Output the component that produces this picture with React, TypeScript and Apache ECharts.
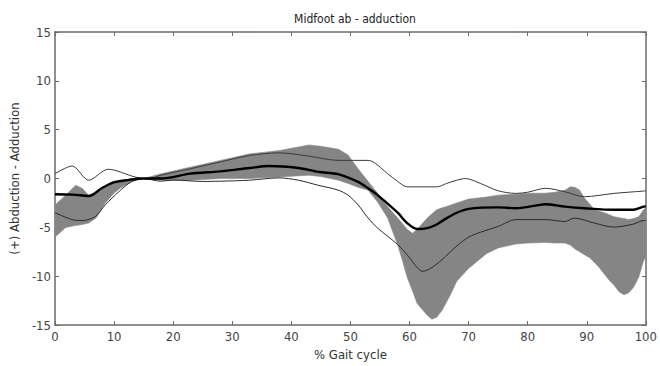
import React, { useEffect, useRef } from "react";
import * as echarts from "echarts";

// % gait cycle sample points for the normative band
const bandX = [0, 1.8, 3.5, 4.6, 5.7, 7, 8.5, 10, 11, 13, 15, 18, 23, 28, 33, 38, 43, 45, 48, 49.6, 51.3, 53, 54.6, 56.3, 58, 58.8, 59.6, 60.5, 61.3, 63, 63.8, 64.6, 65.5, 66.3, 67, 68, 70, 73, 75, 78, 80, 83, 84.6, 86.3, 87.2, 88, 88.8, 89.6, 90.5, 91.3, 92.1, 93, 93.8, 94.6, 95.5, 96.3, 97.1, 97.9, 98.8, 99.6, 100];

// Normative band (grey): upper and lower edges
const bandHigh = [-2.7, -1.7, -0.68, -1.0, -1.7, -1.4, -0.9, -0.35, -0.2, -0.05, 0, 0.5, 1.18, 1.86, 2.53, 2.87, 3.44, 3.3, 3.0, 2.4, 1.0, -0.3, -1.5, -2.85, -4.05, -4.6, -5.2, -5.6, -5.2, -4.05, -3.6, -3.2, -3.0, -2.85, -2.7, -2.5, -2.1, -1.9, -1.7, -1.6, -1.5, -1.5, -1.4, -1.2, -0.85, -0.9, -1.2, -2.0, -2.6, -3.2, -3.35, -3.5, -3.7, -3.9, -4.0, -4.1, -4.2, -4.1, -3.9, -3.2, -3.0];
const bandLow = [-6.0, -5.0, -4.8, -4.7, -4.56, -4.0, -2.5, -1.5, -1.0, -0.3, 0, -0.17, -0.17, 0, 0, 0.17, 0.34, 0.2, -0.17, -0.5, -0.9, -1.2, -2.4, -4.05, -6.8, -8.4, -10.1, -11.5, -12.8, -14.0, -14.4, -14.2, -13.5, -12.6, -11.8, -10.5, -9.2, -7.7, -7.1, -6.7, -6.6, -6.55, -6.6, -6.6, -6.8, -7.2, -7.5, -7.8, -8.1, -8.6, -9.1, -9.8, -10.4, -10.9, -11.6, -11.9, -11.7, -11.15, -10.1, -8.45, -8.0];

// Mean curve (thick)
const meanX = [0, 3, 5.7, 7.9, 9.9, 12.1, 14.9, 17.9, 22.9, 27.9, 32.9, 36.2, 41.2, 44.6, 47.9, 51.3, 53, 54.6, 58, 59.6, 61.3, 63, 64.6, 66.3, 68, 70, 75, 78, 81.3, 83, 86.3, 89.6, 94.6, 97.9, 99.6, 100];
const meanY = [-1.6, -1.65, -1.79, -1.0, -0.4, -0.17, 0, 0, 0.5, 0.74, 1.08, 1.28, 1.08, 0.68, 0.45, -0.34, -1.0, -1.7, -3.5, -4.56, -5.17, -5.07, -4.7, -4.05, -3.5, -3.1, -2.95, -3.04, -2.77, -2.63, -2.87, -3.04, -3.2, -3.2, -2.87, -2.85];

// Upper comparison curve (thin)
const upperX = [0, 2.9, 5.7, 9, 13.5, 15.8, 17.9, 22.9, 27.9, 32.9, 37.9, 42.9, 47.9, 53, 56.3, 58, 59.6, 63, 64.6, 66.3, 68, 69.5, 72, 75, 78, 80, 83, 86.3, 89.6, 94.6, 99.6, 100];
const upperY = [0.5, 1.28, -0.17, 0.95, 0.17, -0.05, 0.34, 1.0, 1.69, 2.36, 2.63, 2.3, 1.86, 1.86, 0.5, -0.3, -0.85, -0.85, -0.85, -0.5, -0.17, 0.0, -0.5, -1.25, -1.52, -1.4, -1.0, -1.35, -1.86, -1.52, -1.28, -1.25];

// Lower comparison curve (thin)
const lowerX = [0, 2.9, 4.6, 6.8, 8.5, 10.8, 12.9, 15, 17.9, 20, 25, 27.9, 32.9, 37.9, 41.2, 44.5, 47.9, 49.6, 51.3, 53, 54.6, 56.3, 58, 59.6, 61.3, 62.2, 63.8, 65.5, 68, 70, 72, 75, 78, 83, 86.3, 87.9, 91.3, 94.6, 97.9, 99.6, 100];
const lowerY = [-3.5, -4.2, -4.3, -3.9, -2.7, -1.35, -0.34, 0, -0.27, -0.15, -0.3, -0.27, -0.17, 0.07, -0.17, -0.68, -1.18, -1.7, -2.7, -4.05, -5.07, -5.9, -6.76, -7.8, -9.1, -9.5, -9.1, -8.3, -6.9, -6.0, -5.5, -4.9, -4.2, -4.2, -4.4, -4.05, -4.56, -4.97, -4.66, -4.3, -4.3];

const xTicks = [0, 10, 20, 30, 40, 50, 60, 70, 80, 90, 100];
const yTicks = [-15, -10, -5, 0, 5, 10, 15];

const pairs = (xs: number[], ys: number[]) => xs.map((x, i) => [x, ys[i]]);

const FONT = "'Liberation Sans Narrow', 'DejaVu Sans Condensed', 'Liberation Sans', sans-serif";
const AXIS = "#6a6a6a";

export default function App() {
  const ref = useRef<HTMLDivElement>(null);

  useEffect(() => {
    if (!ref.current) return;
    const chart = echarts.init(ref.current, undefined, { renderer: "svg" });

    const bandData = bandX.map((x, i) => [x, bandLow[i], bandHigh[i]]);

    const baseX = {
      type: "value" as const,
      min: 0,
      max: 100,
      interval: 10,
      splitLine: { show: false },
      axisLine: { onZero: false, lineStyle: { color: AXIS, width: 1.5 } },
      axisTick: { inside: true, length: 4, lineStyle: { color: AXIS, width: 1 } },
    };
    const baseY = {
      type: "value" as const,
      min: -15,
      max: 15,
      interval: 5,
      splitLine: { show: false },
      axisLine: { onZero: false, lineStyle: { color: AXIS, width: 1.5 } },
      axisTick: { inside: true, length: 4, lineStyle: { color: AXIS, width: 1 } },
    };

    chart.setOption({
      animation: false,
      backgroundColor: "#ffffff",
      title: {
        text: "Midfoot ab - adduction",
        left: 350,
        top: 8,
        textAlign: "center",
        textStyle: { fontFamily: FONT, fontSize: 12, fontWeight: "normal", color: "#222" },
      },
      grid: { left: 52, right: 8, top: 32, bottom: 38 },
      xAxis: [
        {
          ...baseX,
          position: "bottom",
          name: "% Gait cycle",
          nameLocation: "middle",
          nameGap: 22,
          nameTextStyle: { fontFamily: FONT, fontSize: 13, color: "#333" },
          axisLabel: { fontFamily: FONT, fontSize: 13, color: "#444", margin: 5, customValues: xTicks },
        },
        { ...baseX, position: "top", axisLabel: { show: false } },
      ],
      yAxis: [
        {
          ...baseY,
          position: "left",
          name: "(+) Abduction - Adduction",
          nameLocation: "middle",
          nameGap: 30,
          nameTextStyle: { fontFamily: FONT, fontSize: 13, color: "#333" },
          axisLabel: { fontFamily: FONT, fontSize: 13, color: "#444", margin: 4, customValues: yTicks },
        },
        { ...baseY, position: "right", axisLabel: { show: false } },
      ],
      series: [
        {
          name: "band",
          type: "custom",
          data: bandData,
          encode: { x: 0, y: [1, 2] },
          silent: true,
          z: 1,
          renderItem: (params: any, api: any) => {
            if (params.dataIndex !== 0) return null;
            const top = bandData.map((d) => api.coord([d[0], d[2]]));
            const bottom = bandData.map((d) => api.coord([d[0], d[1]])).reverse();
            return {
              type: "polygon",
              shape: { points: top.concat(bottom) },
              style: { fill: "#858585", stroke: "#8a8a8a", lineWidth: 0.6 },
            };
          },
        },
        {
          name: "upper",
          type: "line",
          data: pairs(upperX, upperY),
          symbol: "none",
          smooth: 0.3,
          lineStyle: { color: "#3a3a3a", width: 1 },
          z: 3,
        },
        {
          name: "lower",
          type: "line",
          data: pairs(lowerX, lowerY),
          symbol: "none",
          smooth: 0.3,
          lineStyle: { color: "#2a2a2a", width: 1 },
          z: 3,
        },
        {
          name: "mean",
          type: "line",
          data: pairs(meanX, meanY),
          symbol: "none",
          smooth: 0.3,
          lineStyle: { color: "#000000", width: 2.4 },
          z: 4,
        },
      ],
    });

    return () => chart.dispose();
  }, []);

  return <div ref={ref} style={{ width: 660, height: 366, position: "absolute", left: 0, top: 0 }} />;
}
